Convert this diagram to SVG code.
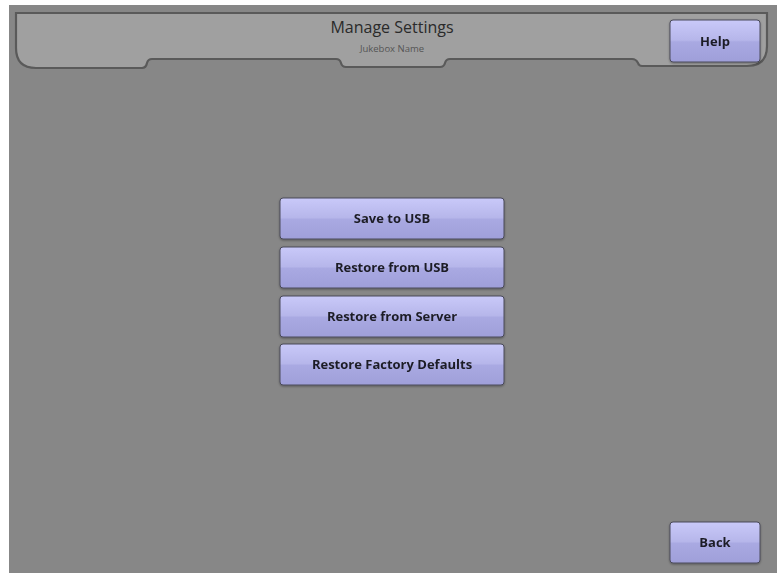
<svg xmlns="http://www.w3.org/2000/svg" width="777" height="573" viewBox="0 0 777 573">
  <defs>
    <linearGradient id="btnFill" x1="0" y1="0" x2="0" y2="1">
      <stop offset="0" stop-color="#c9c9f9"/>
      <stop offset="0.48" stop-color="#b6b6ea"/>
      <stop offset="0.52" stop-color="#a9a9e2"/>
      <stop offset="1" stop-color="#9f9fd9"/>
    </linearGradient>
    <filter id="soft" x="-5%" y="-20%" width="110%" height="140%">
      <feGaussianBlur stdDeviation="0.6"/>
    </filter>
    <filter id="shadow" x="-10%" y="-20%" width="120%" height="140%">
      <feDropShadow dx="0" dy="1" stdDeviation="1" flood-color="#000" flood-opacity="0.35"/>
    </filter>
  </defs>
  <style>
    .btn rect { fill: url(#btnFill); stroke: #4a4a5a; stroke-width: 1; }
    .btn text { font-family: "Open Sans", "Liberation Sans", sans-serif; font-weight: bold; font-size: 13px; fill: #1e1e26; text-anchor: middle; }
    .title { font-family: "Open Sans", "Liberation Sans", sans-serif; text-anchor: middle; }
  </style>

  <!-- screen background -->
  <rect x="0" y="0" width="777" height="573" fill="#ffffff"/>
  <rect x="9" y="5" width="768" height="568" fill="#878787"/>

  <!-- header panel -->
  <g id="header">
    <path d="M16,13 H767 V46 Q767,66 747,66 H642 Q639,66 638,63 Q636,59 632,59 H450 Q446,59 445,63 Q444,67 440,67 H346 Q342,67 341,63 Q340,59 336,59 H152 Q148,59 147,63 Q146,68 142,68 H36 Q16,68 16,48 Z"
          fill="#a0a0a0" stroke="#5a5a5a" stroke-width="2.2" filter="url(#soft)"/>
    <text class="title" x="392" y="33" font-size="16" style="fill:#2a2a2a">Manage Settings</text>
    <text class="title" x="392" y="52" font-size="9.5" style="fill:#555555">Jukebox Name</text>
  </g>

  <g id="help" class="btn" filter="url(#shadow)">
    <rect x="670" y="20" width="90" height="42" rx="3"/>
    <text x="715" y="46">Help</text>
  </g>

  <g id="save-usb" class="btn" filter="url(#shadow)">
    <rect x="280" y="198" width="224" height="41" rx="3"/>
    <text x="392" y="223">Save to USB</text>
  </g>

  <g id="restore-usb" class="btn" filter="url(#shadow)">
    <rect x="280" y="247" width="224" height="41" rx="3"/>
    <text x="392" y="272">Restore from USB</text>
  </g>

  <g id="restore-server" class="btn" filter="url(#shadow)">
    <rect x="280" y="296" width="224" height="41" rx="3"/>
    <text x="392" y="321">Restore from Server</text>
  </g>

  <g id="restore-defaults" class="btn" filter="url(#shadow)">
    <rect x="280" y="344" width="224" height="41" rx="3"/>
    <text x="392" y="369">Restore Factory Defaults</text>
  </g>

  <g id="back" class="btn" filter="url(#shadow)">
    <rect x="670" y="522" width="90" height="41" rx="3"/>
    <text x="715" y="547">Back</text>
  </g>

  <g id="connectors"/>
</svg>
